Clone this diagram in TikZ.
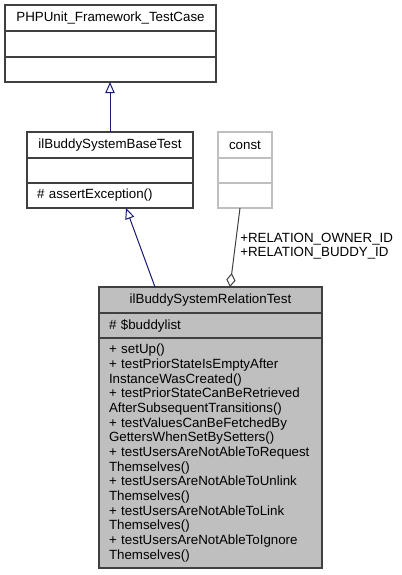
\documentclass[tikz,border=0pt]{standalone}
\usepackage{fontspec}
\setmainfont{Liberation Sans}
\usetikzlibrary{positioning,calc,arrows.meta}

\definecolor{edgeblue}{RGB}{25,25,112}
\definecolor{edgegray}{RGB}{64,64,64}
\definecolor{boxgray}{RGB}{191,191,191}

\begin{document}
\begin{tikzpicture}[x=0.75pt,y=-0.75pt,
    cls/.style={draw=edgegray,line width=0.9pt,rectangle,inner sep=0pt,outer sep=0pt,
        font=\fontsize{10pt}{11pt}\selectfont},
    clstitle/.style={cls,minimum height=19.5pt},
    clspart/.style={cls,minimum height=18.75pt,align=left,inner xsep=7.5pt},
    inherit/.style={draw=edgeblue,line width=0.75pt,-{Triangle[open,length=8.25pt,width=7pt]}},
    aggr/.style={draw=edgegray,line width=0.75pt,-{Diamond[open,length=10.5pt,width=7pt]}},
    lbl/.style={inner sep=0pt,align=left,font=\fontsize{10pt}{11pt}\selectfont}]
    \useasboundingbox (0,0) rectangle (401,575);

    % PHPUnit base class
    \node[clstitle,minimum width=158.25pt,anchor=north] (tcase) at (110.5,5) {PHPUnit\_Framework\_TestCase};
    \node[clspart,text width=143.25pt,minimum height=19.5pt,below=0pt of tcase] (tcaseattr) {};
    \node[clspart,text width=143.25pt,below=0pt of tcaseattr] (tcaseops) {};

    % buddy system base test
    \node[clstitle,minimum width=124.5pt,anchor=north] (base) at (110,132) {ilBuddySystemBaseTest};
    \node[clspart,text width=109.5pt,below=0pt of base] (baseattr) {};
    \node[clspart,text width=109.5pt,below=0pt of baseattr] (baseops) {\# assertException()};

    % const
    \node[clstitle,draw=boxgray,minimum width=40.5pt,anchor=north] (const) at (245,132) {const};
    \node[clspart,draw=boxgray,text width=25.5pt,below=0pt of const] (constattr) {};
    \node[clspart,draw=boxgray,text width=25.5pt,below=0pt of constattr] (constops) {};

    % relation test
    \node[clstitle,fill=boxgray,minimum width=167.25pt,anchor=north] (rel) at (210.5,287) {ilBuddySystemRelationTest};
    \node[clspart,fill=boxgray,text width=152.25pt,below=0pt of rel] (relattr) {\# \$buddylist};
    \node[clspart,fill=boxgray,text width=152.25pt,minimum height=172.5pt,below=0pt of relattr] (relops)
        {+ setUp()\\
         + testPriorStateIsEmptyAfter\\
         InstanceWasCreated()\\
         + testPriorStateCanBeRetrieved\\
         AfterSubsequentTransitions()\\
         + testValuesCanBeFetchedBy\\
         GettersWhenSetBySetters()\\
         + testUsersAreNotAbleToRequest\\
         Themselves()\\
         + testUsersAreNotAbleToUnlink\\
         Themselves()\\
         + testUsersAreNotAbleToLink\\
         Themselves()\\
         + testUsersAreNotAbleToIgnore\\
         Themselves()};

    \draw[inherit] (base.north) -- (base.north |- tcaseops.south);
    \draw[inherit] ($(rel.north west)+(56,0)$) -- ($(baseops.south west)+(99,0)$);
    \draw[aggr] ($(constops.south)+(-5,0)$) -- ($(rel.north west)+(131,0)$);
    \node[lbl,anchor=west] (constlbl) at (240,246) {+RELATION\_OWNER\_ID\\+RELATION\_BUDDY\_ID};
\end{tikzpicture}
\end{document}
